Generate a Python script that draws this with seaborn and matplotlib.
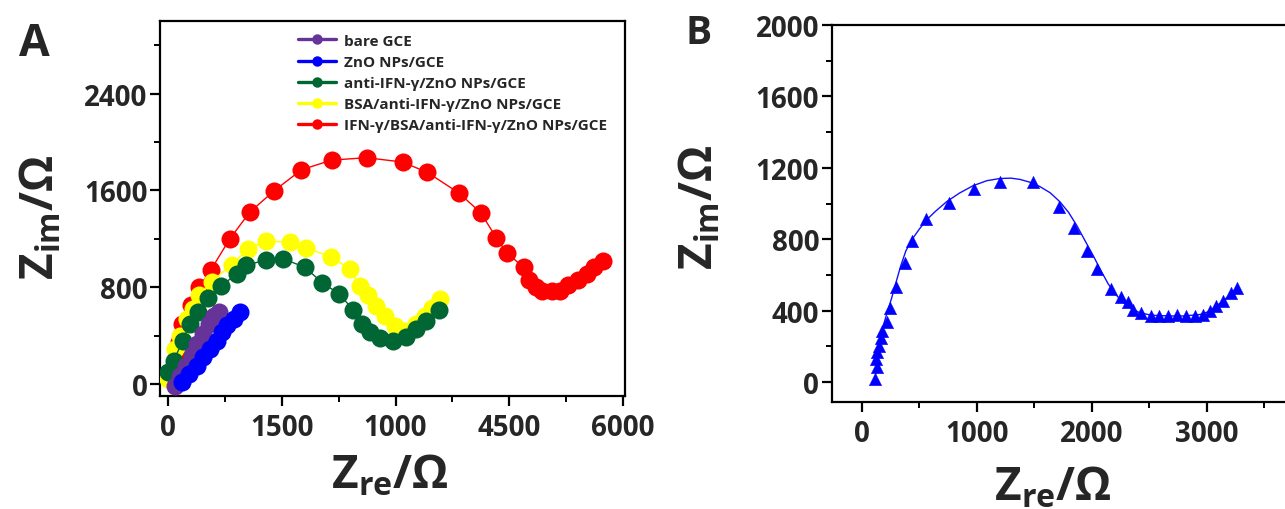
import numpy as np
import pandas as pd
import matplotlib
matplotlib.use("Agg")
import matplotlib.pyplot as plt
import seaborn as sns

# ---------------- data ----------------
# Panel A series
bare_x = [92, 158, 237, 311, 386, 465, 544, 605, 671]
bare_y = [-14, 69, 152, 240, 331, 414, 496, 560, 598]

zno_x = [180, 280, 378, 465, 553, 640, 706, 781, 868, 956]
zno_y = [14, 83, 151, 221, 290, 358, 428, 488, 538, 593]

anti_x = [4, 79, 193, 289, 399, 531, 693, 912, 1035, 1298, 1518, 1803, 2035, 2254,
          2439, 2561, 2658, 2789, 2965, 3140, 3272, 3404, 3570]
anti_y = [97, 193, 358, 496, 598, 709, 808, 910, 979, 1028, 1034, 965, 836, 745,
          615, 496, 433, 378, 358, 386, 455, 524, 615]

bsa_x = [4, 92, 158, 246, 325, 412, 575, 838, 1057, 1298, 1605, 1825, 2154, 2395,
         2526, 2636, 2746, 2855, 2987, 3118, 3272, 3382, 3482, 3592]
bsa_y = [41, 290, 400, 538, 620, 736, 846, 984, 1117, 1180, 1172, 1125, 1048, 951,
         813, 731, 648, 565, 482, 441, 496, 565, 626, 703]

ifn_x = [100, 130, 150, 180, 298, 412, 566, 816, 1079, 1395, 1759, 2158, 2618, 3092,
         3421, 3838, 4123, 4329, 4469, 4688, 4763, 4850, 4925, 5057, 5171, 5272,
         5399, 5518, 5618, 5741]
ifn_y = [40, 200, 350, 496, 656, 800, 943, 1200, 1420, 1594, 1770, 1850, 1870, 1834,
         1748, 1577, 1415, 1208, 1081, 965, 855, 800, 772, 764, 772, 819,
         863, 910, 965, 1020]

series_labels = ["bare GCE", "ZnO NPs/GCE", "anti-IFN-γ/ZnO NPs/GCE",
                 "BSA/anti-IFN-γ/ZnO NPs/GCE", "IFN-γ/BSA/anti-IFN-γ/ZnO NPs/GCE"]
series_colors = ["#663399", "#0000ff", "#006633", "#ffff00", "#ff0000"]

a_xticks = [0, 1500, 3000, 4500, 6000]
a_xticklabels = ["0", "1500", "1000", "4500", "6000"]
a_yticks = [0, 800, 1600, 2400]

# Panel B
b_x = [116, 136, 124, 136, 153, 165, 174, 217, 246, 298, 377, 437, 559, 762, 977,
       1203, 1487, 1719, 1846, 1957, 2043, 2168, 2255, 2318, 2362, 2426, 2513,
       2588, 2666, 2739, 2820, 2898, 2965, 3029, 3081, 3145, 3209, 3266]
b_y = [17, 82, 129, 166, 204, 245, 287, 334, 413, 530, 665, 792, 913, 1001, 1081,
       1122, 1119, 982, 864, 736, 633, 521, 474, 446, 405, 385, 371,
       371, 371, 375, 371, 371, 377, 399, 427, 455, 497, 527]

fit_x = [116, 150, 188, 225, 261, 300, 340, 385, 440, 500, 560, 640, 739, 850, 970,
         1090, 1203, 1300, 1377, 1460, 1550, 1640, 1724, 1800, 1870, 1940, 2014,
         2080, 2144, 2210, 2275, 2340, 2420, 2520, 2681, 2800, 2942, 3020, 3087,
         3180, 3266]
fit_y = [17, 170, 315, 395, 470, 560, 650, 735, 800, 855, 905, 955, 1010, 1058, 1100,
         1128, 1140, 1142, 1135, 1120, 1095, 1060, 1010, 950, 878, 795, 708,
         625, 550, 490, 445, 412, 388, 374, 370, 370, 378, 395, 425, 475, 527]

b_xticks = [0, 1000, 2000, 3000]
b_yticks = [0, 400, 800, 1200, 1600, 2000]

# ---------------- style ----------------
sns.set_style("ticks")
plt.rcParams["font.family"] = ["Open Sans", "DejaVu Sans"]
plt.rcParams["font.weight"] = "bold"
plt.rcParams["mathtext.fontset"] = "custom"
plt.rcParams["mathtext.rm"] = "Open Sans:bold"
plt.rcParams["mathtext.it"] = "Open Sans:bold"
plt.rcParams["mathtext.bf"] = "Open Sans:bold"

fig = plt.figure(figsize=(12.85, 5.10), dpi=100)

axA = fig.add_axes([0.12451, 0.22157, 0.36187, 0.73529])
axB = fig.add_axes([0.64724, 0.2098, 0.36335, 0.73922])

# ---------------- panel A ----------------
all_series = [(bare_x, bare_y), (zno_x, zno_y), (anti_x, anti_y), (bsa_x, bsa_y), (ifn_x, ifn_y)]
draw_order = [4, 3, 2, 0, 1]
for i in draw_order:
    xs, ys = all_series[i]
    df = pd.DataFrame({"x": xs, "y": ys})
    sns.lineplot(data=df, x="x", y="y", sort=False, estimator=None, ax=axA,
                 color=series_colors[i], marker="o", markersize=13,
                 markeredgewidth=0, linewidth=1.0, label=series_labels[i],
                 zorder=3 + draw_order.index(i))

h, l = axA.get_legend_handles_labels()
order = [l.index(s) for s in series_labels]
leg = axA.legend([h[k] for k in order], [l[k] for k in order], loc="upper left",
                 bbox_to_anchor=(0.297, 0.966), frameon=False, borderpad=0, borderaxespad=0,
                 prop={"family": "Open Sans", "weight": "bold", "size": 11},
                 labelspacing=0.47, handlelength=2.5, handletextpad=0.5)
for hd in leg.legend_handles:
    hd.set_markersize(7.5)
    hd.set_linewidth(2.4)

axA.set_xlim(-105, 6025)
axA.set_ylim(-100, 3000)
axA.set_xticks(a_xticks)
axA.set_xticklabels(a_xticklabels)
axA.set_yticks(a_yticks)
axA.set_xticks([750, 2250, 3750, 5250], minor=True)
axA.set_yticks([400, 1200, 2000, 2800], minor=True)

axA.set_xlabel(r"$\mathrm{Z_{re}/Ω}$", fontsize=33)
axA.set_ylabel(r"$\mathrm{Z_{im}/Ω}$", fontsize=33)
axA.xaxis.set_label_coords(0.495, -0.15)
axA.yaxis.set_label_coords(-0.205, 0.48)

# ---------------- panel B ----------------
dfb = pd.DataFrame({"x": b_x, "y": b_y})
dff = pd.DataFrame({"x": fit_x, "y": fit_y})
sns.lineplot(data=dff, x="x", y="y", sort=False, estimator=None, ax=axB,
             color="#1010ff", linewidth=1.0, zorder=2)
sns.scatterplot(data=dfb, x="x", y="y", ax=axB, marker="^", s=80, color="#0000ff",
                edgecolor="#0000ff", linewidth=0.3, zorder=3)

axB.set_xlim(-260, 3800)
axB.set_ylim(-112, 2000)
axB.set_xticks(b_xticks)
axB.set_yticks(b_yticks)
axB.set_xticks([500, 1500, 2500, 3500], minor=True)
axB.set_yticks([200, 600, 1000, 1400, 1800], minor=True)
axB.set_xlabel(r"$\mathrm{Z_{re}/Ω}$", fontsize=33)
axB.set_ylabel(r"$\mathrm{Z_{im}/Ω}$", fontsize=33)
axB.xaxis.set_label_coords(0.474, -0.165)
axB.yaxis.set_label_coords(-0.232, 0.52)

for ax in (axA, axB):
    for sp in ax.spines.values():
        sp.set_linewidth(1.6)
        sp.set_color("black")
        sp.set_visible(True)
    ax.tick_params(which="major", direction="out", length=7, width=1.6,
                   labelsize=20, pad=2, top=False, right=False, color="black")
    ax.tick_params(which="minor", direction="out", length=4, width=1.4,
                   top=False, right=False, color="black")
    for lab in ax.get_xticklabels() + ax.get_yticklabels():
        lab.set_fontweight("bold")
        lab.set_family("Open Sans")
axA.tick_params(axis="x", which="major", pad=5)
axB.tick_params(axis="x", which="major", pad=5)

fig.text(0.0265, 0.9137, "A", fontsize=32, fontweight="bold", ha="center", va="center")
fig.text(0.544, 0.935, "B", fontsize=28, fontweight="bold", ha="center", va="center")

fig.savefig("out.png", dpi=100)
